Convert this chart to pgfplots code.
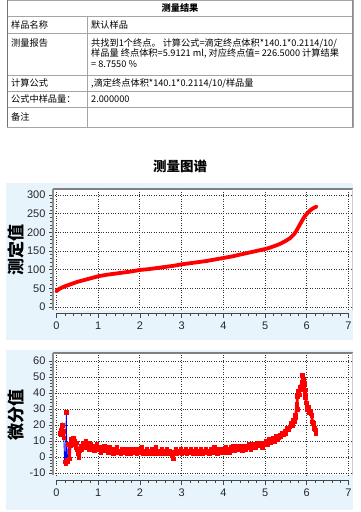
\documentclass[border=0pt]{standalone}
\usepackage{pgfplots}
\pgfplotsset{compat=1.18}
\usepackage{fontspec}
\setmainfont{Liberation Sans}
\newfontfamily\cjk{Noto Sans CJK SC}
\newfontfamily\tickfont{Liberation Sans}
\definecolor{bgblue}{RGB}{232,244,252}
\definecolor{framegray}{RGB}{128,128,128}
\definecolor{tablegray}{RGB}{165,165,165}
\definecolor{tickgray}{RGB}{70,70,70}

\pgfplotstableread{
x y
0.00 42
0.05 47
0.10 50
0.20 55
0.30 59
0.40 63
0.50 67
0.60 70
0.70 73
0.80 76
0.90 79
1.00 82
1.20 86
1.40 89
1.60 92
1.80 95
2.00 99
2.20 101
2.40 104
2.60 107
2.80 110
3.00 114
3.20 117
3.40 120
3.60 123
3.80 127
4.00 131
4.20 135
4.40 140
4.60 145
4.80 150
5.00 155
5.10 158
5.20 162
5.30 166
5.40 171
5.50 177
5.60 184
5.70 195
5.75 203
5.80 213
5.85 223
5.90 233
5.95 242
6.00 249
6.05 255
6.10 260
6.15 264
6.20 267
6.24 269
}\curve

\pgfplotstableread{
x y
0.08 15
0.10 14
0.12 17
0.14 20
0.16 16
0.18 12
0.20 -3
0.22 -4
0.24 28
0.25 -2
0.27 -3
0.29 8
0.31 -1
0.33 7
0.35 11
0.37 9
0.40 12
0.42 8
0.44 10
0.46 6
0.48 9
0.50 5
0.52 2
0.54 0
0.56 4
0.58 7
0.61 5
0.64 9
0.67 6
0.70 10
0.73 7
0.76 9
0.79 5
0.82 8
0.85 6
0.88 7
0.91 4
0.94 6
0.97 8
1.00 5
1.03 6
1.06 3
1.09 6
1.12 4
1.15 7
1.18 4
1.21 5
1.24 3
1.27 6
1.30 4
1.33 5
1.36 2
1.39 5
1.42 4
1.45 6
1.48 3
1.51 4
1.54 2
1.57 5
1.60 3
1.63 5
1.66 4
1.69 2
1.72 4
1.75 5
1.78 2
1.81 3
1.84 5
1.87 3
1.90 4
1.93 2
1.96 5
1.99 3
2.02 4
2.05 6
2.08 2
2.11 4
2.14 3
2.17 5
2.20 2
2.23 4
2.26 3
2.29 5
2.32 2
2.35 4
2.38 6
2.41 3
2.44 2
2.47 4
2.50 3
2.53 5
2.56 2
2.59 4
2.62 3
2.65 5
2.68 2
2.71 4
2.74 3
2.77 1
2.80 -1
2.83 3
2.86 5
2.89 2
2.92 4
2.95 3
2.98 5
3.01 2
3.04 4
3.07 3
3.10 5
3.13 2
3.16 4
3.19 3
3.22 5
3.25 3
3.28 2
3.31 4
3.34 5
3.37 2
3.40 4
3.43 3
3.46 5
3.49 2
3.52 4
3.55 3
3.58 5
3.61 3
3.64 4
3.67 2
3.70 5
3.73 3
3.76 4
3.79 6
3.82 3
3.85 2
3.88 4
3.91 5
3.94 3
3.97 4
4.00 5
4.03 3
4.06 6
4.09 4
4.12 5
4.15 3
4.18 6
4.21 5
4.24 7
4.27 4
4.30 6
4.33 5
4.36 7
4.39 5
4.42 6
4.45 4
4.48 7
4.51 6
4.54 5
4.57 7
4.60 6
4.63 8
4.66 5
4.69 7
4.72 6
4.75 8
4.78 6
4.81 7
4.84 9
4.87 7
4.90 8
4.93 6
4.96 9
4.99 8
5.02 10
5.05 8
5.08 9
5.11 11
5.14 9
5.17 10
5.20 12
5.23 10
5.26 13
5.29 11
5.32 12
5.35 14
5.38 13
5.41 15
5.44 14
5.47 16
5.50 15
5.53 18
5.56 17
5.59 19
5.62 21
5.65 20
5.68 23
5.70 22
5.72 26
5.74 25
5.76 33
5.77 30
5.78 38
5.80 41
5.82 39
5.84 44
5.86 42
5.88 47
5.89 44
5.90 51
5.91 45
5.92 48
5.93 43
5.94 46
5.95 40
5.96 42
5.97 37
5.98 39
5.99 34
6.00 33
6.02 30
6.04 31
6.06 28
6.08 29
6.10 27
6.12 26
6.14 22
6.16 21
6.18 18
6.20 17
6.22 15
}\deriv

\pgfplotsset{
  plotarea/.style={
    scale only axis, clip=false,
    width=299.5pt,
    xmin=-0.08, xmax=7.1,
    axis background/.style={fill=white},
    axis line style={draw=none},
    xtick={0,...,7}, xticklabels={}, x tick style={draw=none},
    ytick pos=left, tick align=outside,
    major tick length=4pt, minor tick length=2.5pt,
    y tick style={tickgray, line width=0.6pt},
    minor y tick num=4,
    grid=major, major grid style={dotted, black!80, line width=0.6pt},
    yticklabel style={font=\tickfont\fontsize{11}{12}\selectfont, text=black!85},
    /pgf/number format/assume math mode=true,
  },
  xaxisonly/.style={
    scale only axis, width=292pt, height=5pt, anchor=south west,
    xmin=0, xmax=7, ymin=0, ymax=1,
    axis x line=bottom, axis y line=none,
    axis line style={-, tickgray, line width=0.8pt},
    xtick={0,...,7}, minor x tick num=4, tick align=outside,
    major tick length=5pt, minor tick length=3pt,
    x tick style={tickgray, line width=0.6pt},
    ytick=\empty,
    xticklabel style={font=\tickfont\fontsize{11}{12}\selectfont, text=black!85},
    /pgf/number format/assume math mode=true,
  },
}

\begin{document}
\begin{tikzpicture}[x=1pt,y=1pt]
\path[use as bounding box, fill=white] (0,0) rectangle (360,-512);

% ---------- table ----------
\draw[tablegray, line width=0.8pt] (7,0) rectangle (353,-127);
\foreach \yy in {16,33,75,91,107} \draw[tablegray, line width=0.8pt] (7,-\yy) -- (353,-\yy);
\draw[tablegray, line width=0.8pt] (87,-16) -- (87,-127);
\draw[black!55, line width=1.4pt] (7.5,0) -- (7.5,-127);
\draw[black!45, line width=1pt] (352.8,0) -- (352.8,-127);

\begin{scope}[every node/.style={font=\cjk\fontsize{9.2}{11}\selectfont, inner sep=0pt}]
\node[font=\cjk\bfseries\fontsize{9.2}{11}\selectfont] at (180,-8) {测量结果};
\node[anchor=west] at (11,-24.5) {样品名称};
\node[anchor=west] at (91,-24.5) {默认样品};
\node[anchor=west] at (11,-43) {测量报告};
\node[anchor=west] at (91,-43) {共找到1个终点。 计算公式=滴定终点体积*140.1*0.2114/10/};
\node[anchor=west] at (91,-53.5) {样品量 终点体积=5.9121 ml, 对应终点值= 226.5000 计算结果};
\node[anchor=west] at (91,-64) {= 8.7550 \%};
\node[anchor=west] at (11,-83) {计算公式};
\node[anchor=west] at (91,-83) {,滴定终点体积*140.1*0.2114/10/样品量};
\node[anchor=west] at (11,-99) {公式中样品量：};
\node[anchor=west] at (91,-99) {2.000000};
\node[anchor=west] at (11,-117) {备注};
\end{scope}

% ---------- title ----------
\node[font=\cjk\bfseries\fontsize{13.5}{15}\selectfont] at (180,-166) {测量图谱};

% ---------- backgrounds ----------
\fill[bgblue] (6,-183) rectangle (353,-340);
\fill[bgblue] (6,-350) rectangle (353,-510);

% ---------- top chart ----------
\begin{axis}[plotarea, at={(53pt,-189pt)}, anchor=north west,
  height=120.5pt, ymin=-7, ymax=316, ytick={0,50,...,300}]
\addplot[red, line width=3.8pt, line cap=round, line join=round] table[x=x,y=y] {\curve};
\draw[framegray, line width=2pt] (rel axis cs:0,1) -- (rel axis cs:1,1);
\draw[black!45, line width=1.2pt] (rel axis cs:0,0) -- (rel axis cs:0,1);
\draw[black!20, line width=0.8pt] (rel axis cs:1,0) -- (rel axis cs:1,1);
\end{axis}
\begin{axis}[xaxisonly, at={(56.5pt,-313pt)}]
\end{axis}
\node[font=\cjk\bfseries\fontsize{17}{17}\selectfont, rotate=90] at (16,-250) {测定值};

% ---------- bottom chart ----------
\begin{axis}[plotarea, at={(53pt,-353pt)}, anchor=north west,
  height=122.4pt, ymin=-11.5, ymax=65, ytick={-10,0,...,60}]
\addplot[blue, line width=0.9pt] table[x=x,y=y] {\deriv};
\addplot[red, line width=2.8pt, line join=round, restrict x to domain=0:0.19] table[x=x,y=y] {\deriv};
\addplot[red, line width=2.8pt, line join=round, restrict x to domain=0.3:7] table[x=x,y=y] {\deriv};
\addplot[only marks, mark=square*, mark size=1.8pt, mark options={fill=red, draw=red}] table[x=x,y=y] {\deriv};
\draw[framegray, line width=2pt] (rel axis cs:0,1) -- (rel axis cs:1,1);
\draw[black!45, line width=1.2pt] (rel axis cs:0,0) -- (rel axis cs:0,1);
\draw[black!20, line width=0.8pt] (rel axis cs:1,0) -- (rel axis cs:1,1);
\end{axis}
\begin{axis}[xaxisonly, at={(56.5pt,-480pt)}]
\end{axis}
\node[font=\cjk\bfseries\fontsize{17}{17}\selectfont, rotate=90] at (16,-415) {微分值};

\end{tikzpicture}
\end{document}
